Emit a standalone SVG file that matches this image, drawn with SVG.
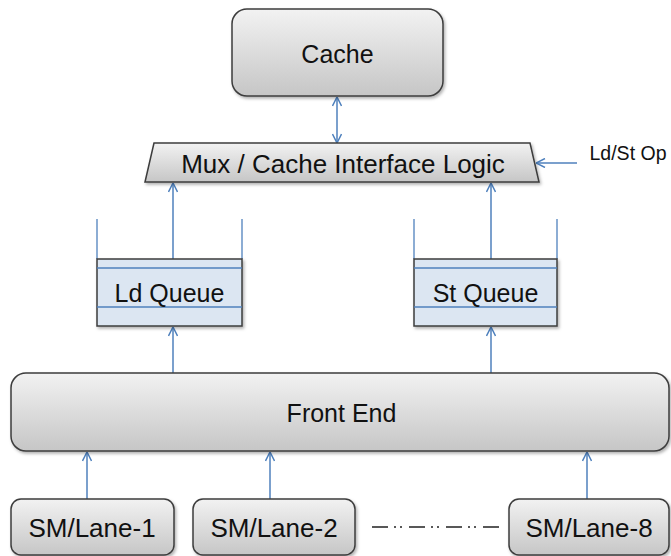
<svg xmlns="http://www.w3.org/2000/svg" width="671" height="556" viewBox="0 0 671 556">
<style>
.box{fill:url(#g);stroke:#3c3c3c;stroke-width:1.5;filter:url(#sh)}
.q{fill:#dce6f2;stroke:#3c3c3c;stroke-width:1.5;filter:url(#sh)}
.ql{stroke:#4f81bd;stroke-width:1.3;fill:none}
.t{font-family:"Liberation Sans",Arial,sans-serif;font-size:25px;fill:#111;text-anchor:middle}
.c{stroke:#4f81bd;stroke-width:1.5;fill:none}
.dd{stroke:#222;stroke-width:1.6;fill:none;stroke-dasharray:16 6 2 4 2 7}
</style>
<defs>
<linearGradient id="g" x1="0" y1="0" x2="0" y2="1">
<stop offset="0" stop-color="#f2f2f2"/>
<stop offset="1" stop-color="#c6c6c6"/>
</linearGradient>
<filter id="sh" x="-5%" y="-10%" width="115%" height="130%">
<feDropShadow dx="1.5" dy="2" stdDeviation="1.5" flood-color="#000" flood-opacity="0.3"/>
</filter>
<marker id="a" viewBox="0 0 10 10" refX="10" refY="5" markerWidth="10" markerHeight="10" markerUnits="userSpaceOnUse" orient="auto-start-reverse">
<path d="M1,0.5 L10,5 L1,9.5" stroke="#4f81bd" stroke-width="1.5" fill="none"/>
</marker>
</defs>
<g id="connectors">
<line class="c" x1="337" y1="97" x2="337" y2="143" marker-start="url(#a)" marker-end="url(#a)"/>
<line class="c" x1="577" y1="163" x2="536" y2="163" marker-end="url(#a)"/>
<line class="c" x1="173" y1="259" x2="173" y2="183" marker-end="url(#a)"/>
<line class="c" x1="491" y1="259" x2="491" y2="183" marker-end="url(#a)"/>
<line class="c" x1="173" y1="373" x2="173" y2="327" marker-end="url(#a)"/>
<line class="c" x1="491" y1="373" x2="491" y2="327" marker-end="url(#a)"/>
<line class="c" x1="87" y1="499" x2="87" y2="452" marker-end="url(#a)"/>
<line class="c" x1="270" y1="499" x2="270" y2="452" marker-end="url(#a)"/>
<line class="c" x1="587" y1="499" x2="587" y2="452" marker-end="url(#a)"/>
<line class="dd" x1="372" y1="527" x2="500" y2="527"/>
</g>
<g id="cache">
<rect class="box" x="232" y="9" width="211" height="87" rx="15"/>
<text class="t" x="337.5" y="63">Cache</text>
</g>
<g id="mux">
<polygon class="box" points="154,143 530,143 539,182 145,182"/>
<text class="t" x="343" y="173" style="font-size:26px">Mux / Cache Interface Logic</text>
</g>
<g id="ldst-op">
<text class="t" x="628" y="160" style="font-size:19.5px">Ld/St Op</text>
</g>
<g id="ld-queue">
<line class="ql" x1="97" y1="219" x2="97" y2="259"/>
<line class="ql" x1="242" y1="219" x2="242" y2="259"/>
<rect class="q" x="97" y="259" width="145" height="67"/>
<line class="ql" x1="97" y1="268" x2="242" y2="268"/>
<line class="ql" x1="97" y1="307" x2="242" y2="307"/>
<text class="t" x="169.5" y="302">Ld Queue</text>
</g>
<g id="st-queue">
<line class="ql" x1="414" y1="219" x2="414" y2="259"/>
<line class="ql" x1="557" y1="219" x2="557" y2="259"/>
<rect class="q" x="414" y="259" width="143" height="67"/>
<line class="ql" x1="414" y1="268" x2="557" y2="268"/>
<line class="ql" x1="414" y1="307" x2="557" y2="307"/>
<text class="t" x="485.5" y="302">St Queue</text>
</g>
<g id="front-end">
<rect class="box" x="11" y="373" width="658" height="78" rx="15"/>
<text class="t" x="341.5" y="422">Front End</text>
</g>
<g id="sm1">
<rect class="box" x="11" y="499" width="163" height="56" rx="10"/>
<text class="t" x="92" y="537" style="font-size:26px">SM/Lane-1</text>
</g>
<g id="sm2">
<rect class="box" x="193" y="499" width="162" height="56" rx="10"/>
<text class="t" x="274" y="537" style="font-size:26px">SM/Lane-2</text>
</g>
<g id="sm8">
<rect class="box" x="509" y="499" width="160" height="56" rx="10"/>
<text class="t" x="589" y="537" style="font-size:26px">SM/Lane-8</text>
</g>
</svg>
